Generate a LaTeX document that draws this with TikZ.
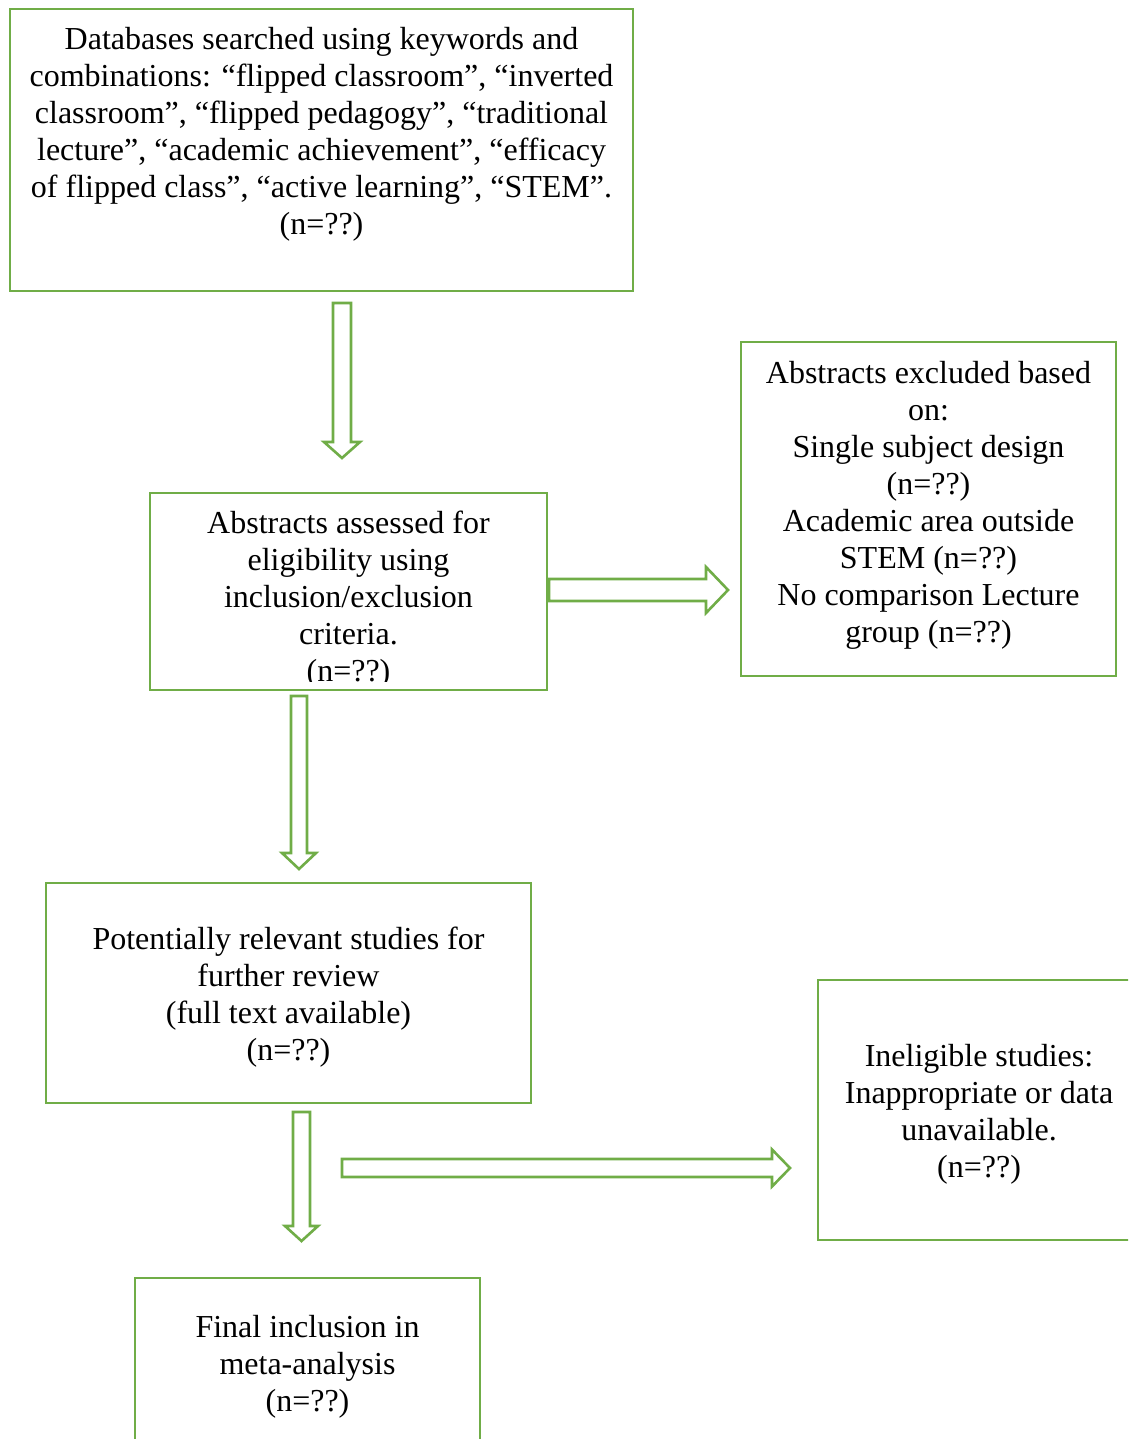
\documentclass[tikz,border=0pt]{standalone}
\usepackage{fontspec}
\setmainfont{Liberation Serif}
\usetikzlibrary{calc}
\definecolor{boxgreen}{HTML}{70AD47}
\tikzset{
  box/.style={draw=boxgreen, line width=2.6pt, rectangle, inner sep=0pt, fill=none},
  txt/.style={inner sep=0pt, anchor=north, align=center, font=\fontsize{32}{37}\selectfont},
  arrowline/.style={draw=boxgreen, line width=2.6pt, line join=miter, fill=white}
}
\newcommand\BlockDown[5]{%
  \draw[arrowline] let \p1=(#1), \p2=(#2) in
  (\x1-#3pt,\y1) -- (\x1+#3pt,\y1) -- (\x1+#3pt,\y2+#5pt) -- (\x1+#4pt,\y2+#5pt)
  -- (\x1,\y2) -- (\x1-#4pt,\y2+#5pt) -- (\x1-#3pt,\y2+#5pt) -- cycle;}
\newcommand\BlockRight[5]{%
  \draw[arrowline] let \p1=(#1), \p2=(#2) in
  (\x1,\y1+#3pt) -- (\x2-#5pt,\y1+#3pt) -- (\x2-#5pt,\y1+#4pt) -- (\x2,\y1)
  -- (\x2-#5pt,\y1-#4pt) -- (\x2-#5pt,\y1-#3pt) -- (\x1,\y1-#3pt) -- cycle;}
\begin{document}
\begin{tikzpicture}[x=1pt,y=-1pt]
\useasboundingbox (0,0) rectangle (1128,1439);
\clip (0,0) rectangle (1128,1439);
\fill[white] (0,0) rectangle (1128,1439);

% boxes
\node[box, minimum width=623pt, minimum height=282pt] (b1) at (321.5,150) {};
\node[box, minimum width=397pt, minimum height=197pt] (b2) at (348.5,591.5) {};
\node[box, minimum width=375pt, minimum height=334pt] (b3) at (928.5,509) {};
\node[box, minimum width=485pt, minimum height=220pt] (b4) at (288.5,993) {};
\node[box, minimum width=322pt, minimum height=260pt] (b5) at (979,1110) {};
\node[box, minimum width=345pt, minimum height=180pt] (b6) at (307.5,1368) {};

% texts (first baseline = north + 25.9)
\node[txt] (t1) at (321.5,23.1) {\strut Databases searched using keywords and\\
combinations: “flipped classroom”, “inverted\\
classroom”, “flipped pedagogy”, “traditional\\
lecture”, “academic achievement”, “efficacy\\
of flipped class”, “active learning”, “STEM”.\\
(n=??)};
\begin{scope}
\clip (150,493) rectangle (547,681);
\node[txt] (t2) at (348.5,507.1) {\strut Abstracts assessed for\\
eligibility using\\
inclusion/exclusion\\
criteria.\\
(n=??)};
\end{scope}
\node[txt] (t3) at (928.5,357.1) {\strut Abstracts excluded based\\
on:\\
Single subject design\\
(n=??)\\
Academic area outside\\
STEM (n=??)\\
No comparison Lecture\\
group (n=??)};
\node[txt] (t4) at (288.5,923.1) {\strut Potentially relevant studies for\\
further review\\
(full text available)\\
(n=??)};
\node[txt] (t5) at (979,1040.1) {\strut Ineligible studies:\\
Inappropriate or data\\
unavailable.\\
(n=??)};
\node[txt] (t6) at (307.5,1311.1) {\strut Final inclusion in\\
meta-analysis\\
(n=??)};

% arrow end points
\coordinate (a1s) at (342,303);  \coordinate (a1e) at (342,458);
\coordinate (a2s) at (549,590);  \coordinate (a2e) at (728,590);
\coordinate (a3s) at (299,696);  \coordinate (a3e) at (299,869);
\coordinate (a4s) at (301.5,1112); \coordinate (a4e) at (301.5,1241);
\coordinate (a5s) at (342,1168); \coordinate (a5e) at (790,1168);

\BlockDown{a1s}{a1e}{9}{18}{16}
\BlockRight{a2s}{a2e}{11}{23}{22}
\BlockDown{a3s}{a3e}{8}{17}{16}
\BlockDown{a4s}{a4e}{8.5}{16.5}{15}
\BlockRight{a5s}{a5e}{9}{18.5}{18}
\end{tikzpicture}
\end{document}
